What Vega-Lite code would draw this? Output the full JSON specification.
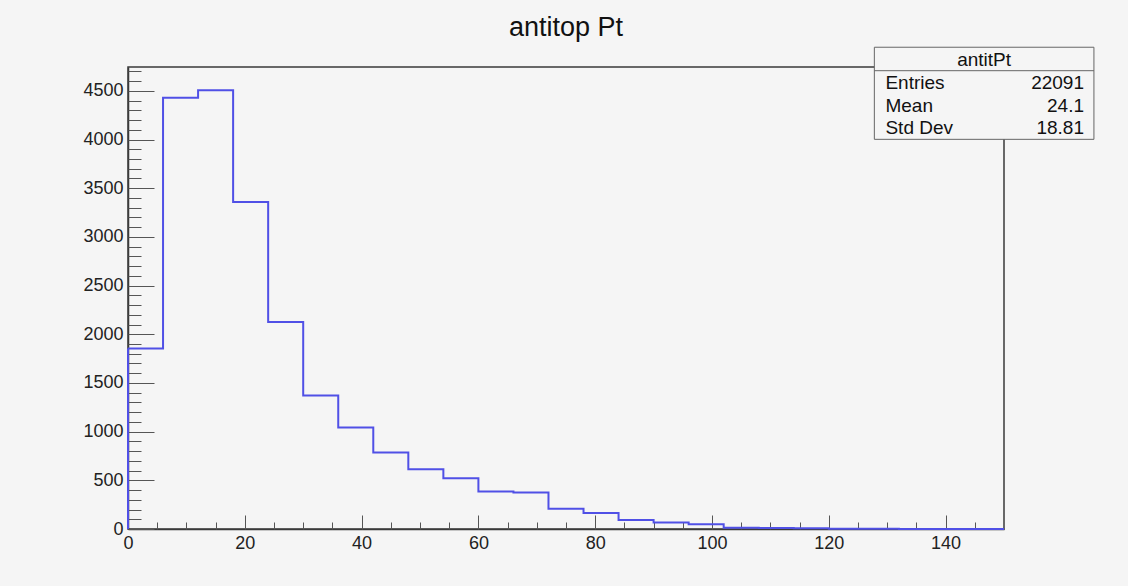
{
  "$schema": "https://vega.github.io/schema/vega-lite/v6.json",
  "width": 876,
  "height": 462,
  "autosize": {"type": "none"},
  "padding": {"left": 128, "top": 67, "right": 124, "bottom": 57},
  "background": "#f5f5f5",
  "config": {
    "view": {"stroke": "#3a3a3a", "strokeWidth": 1.5, "fill": "#f5f5f5"},
    "font": "Liberation Sans",
    "axis": {"labelFont": "Liberation Sans", "labelFontSize": 18, "labelColor": "#222", "tickColor": "#555", "tickWidth": 1, "domainColor": "#3a3a3a", "domainWidth": 1.5, "grid": false, "labelFlush": false, "format": "d"}
  },
  "title": {"text": "antitop Pt", "fontSize": 27, "fontWeight": "normal", "font": "Liberation Sans", "color": "#111", "anchor": "middle", "frame": "group", "baseline": "alphabetic", "offset": -16},
  "datasets": {
    "hist": [
      {"lo": 0, "hi": 6, "count": 1855},
      {"lo": 6, "hi": 12, "count": 4430},
      {"lo": 12, "hi": 18, "count": 4507},
      {"lo": 18, "hi": 24, "count": 3358},
      {"lo": 24, "hi": 30, "count": 2127},
      {"lo": 30, "hi": 36, "count": 1371},
      {"lo": 36, "hi": 42, "count": 1042},
      {"lo": 42, "hi": 48, "count": 785},
      {"lo": 48, "hi": 54, "count": 613},
      {"lo": 54, "hi": 60, "count": 520},
      {"lo": 60, "hi": 66, "count": 385},
      {"lo": 66, "hi": 72, "count": 374},
      {"lo": 72, "hi": 78, "count": 209},
      {"lo": 78, "hi": 84, "count": 164},
      {"lo": 84, "hi": 90, "count": 92},
      {"lo": 90, "hi": 96, "count": 68},
      {"lo": 96, "hi": 102, "count": 48},
      {"lo": 102, "hi": 108, "count": 14},
      {"lo": 108, "hi": 114, "count": 10},
      {"lo": 114, "hi": 120, "count": 8},
      {"lo": 120, "hi": 126, "count": 3},
      {"lo": 126, "hi": 132, "count": 2},
      {"lo": 132, "hi": 138, "count": 1},
      {"lo": 138, "hi": 144, "count": 1},
      {"lo": 144, "hi": 150, "count": 0}
    ],
    "stats": [
      {"name": "antitPt", "labels": ["Entries", "Mean", "Std Dev"], "values": ["22091", "24.1", "18.81"]}
    ]
  },
  "resolve": {"axis": {"x": "independent", "y": "independent"}},
  "layer": [
    {
      "data": {"name": "hist"},
      "transform": [{"fold": ["lo", "hi"], "as": ["edge", "pos"]}],
      "mark": {"type": "line", "color": "#5050e6", "strokeWidth": 2},
      "encoding": {
        "x": {"field": "pos", "type": "quantitative", "scale": {"domain": [0, 150], "nice": false, "zero": false},
              "axis": {"orient": "bottom", "values": [0, 20, 40, 60, 80, 100, 120, 140], "ticks": false, "tickSize": 0, "labelPadding": 5, "title": null}},
        "y": {"field": "count", "type": "quantitative", "scale": {"domain": [0, 4745], "nice": false, "zero": false},
              "axis": {"orient": "left", "values": [0, 500, 1000, 1500, 2000, 2500, 3000, 3500, 4000, 4500], "ticks": false, "tickSize": 0, "labelPadding": 5, "title": null}},
        "order": [{"field": "pos", "type": "quantitative"}, {"field": "edge", "type": "nominal"}]
      }
    },
    {
      "data": {"name": "hist"},
      "transform": [{"filter": "datum.lo == 0"}],
      "mark": {"type": "rule", "color": "#5050e6", "strokeWidth": 2},
      "encoding": {
        "x": {"field": "lo", "type": "quantitative", "scale": {"domain": [0, 150], "nice": false, "zero": false},
              "axis": {"orient": "bottom", "values": [0, 20, 40, 60, 80, 100, 120, 140], "labels": false, "domain": false, "tickSize": -14, "title": null}},
        "y": {"field": "count", "type": "quantitative", "scale": {"domain": [0, 4745], "nice": false, "zero": false},
              "axis": {"orient": "left", "values": [0, 500, 1000, 1500, 2000, 2500, 3000, 3500, 4000, 4500], "labels": false, "domain": false, "tickSize": -26, "title": null}},
        "y2": {"datum": 0}
      }
    },
    {
      "data": {"name": "hist"},
      "transform": [{"filter": "datum.hi == 150"}],
      "mark": {"type": "rule", "color": "#5050e6", "strokeWidth": 2},
      "encoding": {
        "x": {"field": "hi", "type": "quantitative", "scale": {"domain": [0, 150], "nice": false, "zero": false},
              "axis": {"orient": "bottom", "values": [5, 10, 15, 25, 30, 35, 45, 50, 55, 65, 70, 75, 85, 90, 95, 105, 110, 115, 125, 130, 135, 145], "labels": false, "domain": false, "tickSize": -7, "title": null}},
        "y": {"field": "count", "type": "quantitative", "scale": {"domain": [0, 4745], "nice": false, "zero": false},
              "axis": {"orient": "left", "values": [100, 200, 300, 400, 600, 700, 800, 900, 1100, 1200, 1300, 1400, 1600, 1700, 1800, 1900, 2100, 2200, 2300, 2400, 2600, 2700, 2800, 2900, 3100, 3200, 3300, 3400, 3600, 3700, 3800, 3900, 4100, 4200, 4300, 4400, 4600, 4700], "labels": false, "domain": false, "tickSize": -13, "title": null}},
        "y2": {"datum": 0}
      }
    },
    {
      "data": {"name": "stats"},
      "mark": {"type": "rect", "fill": "#f5f5f5", "stroke": "#666", "strokeWidth": 1},
      "encoding": {
        "x": {"datum": 127.8, "type": "quantitative", "scale": {"domain": [0, 150], "nice": false, "zero": false}, "axis": null},
        "x2": {"datum": 165.4},
        "y": {"datum": 4948, "type": "quantitative", "scale": {"domain": [0, 4745], "nice": false, "zero": false}, "axis": null},
        "y2": {"datum": 4002}
      }
    },
    {
      "data": {"name": "stats"},
      "mark": {"type": "rule", "stroke": "#666", "strokeWidth": 1},
      "encoding": {
        "x": {"datum": 127.8, "type": "quantitative", "scale": {"domain": [0, 150], "nice": false, "zero": false}, "axis": null},
        "x2": {"datum": 165.4},
        "y": {"datum": 4707, "type": "quantitative", "scale": {"domain": [0, 4745], "nice": false, "zero": false}, "axis": null}
      }
    },
    {
      "data": {"name": "stats"},
      "mark": {"type": "text", "font": "Liberation Sans", "fontSize": 19, "color": "#111", "align": "center", "baseline": "middle"},
      "encoding": {
        "x": {"datum": 146.6, "type": "quantitative", "scale": {"domain": [0, 150], "nice": false, "zero": false}, "axis": null},
        "y": {"datum": 4817, "type": "quantitative", "scale": {"domain": [0, 4745], "nice": false, "zero": false}, "axis": null},
        "text": {"field": "name", "type": "nominal"}
      }
    },
    {
      "data": {"name": "stats"},
      "mark": {"type": "text", "font": "Liberation Sans", "fontSize": 19, "color": "#111", "align": "left", "baseline": "middle", "lineHeight": 22.8},
      "encoding": {
        "x": {"datum": 129.7, "type": "quantitative", "scale": {"domain": [0, 150], "nice": false, "zero": false}, "axis": null},
        "y": {"datum": 4582, "type": "quantitative", "scale": {"domain": [0, 4745], "nice": false, "zero": false}, "axis": null},
        "text": {"field": "labels", "type": "nominal"}
      }
    },
    {
      "data": {"name": "stats"},
      "mark": {"type": "text", "font": "Liberation Sans", "fontSize": 19, "color": "#111", "align": "right", "baseline": "middle", "lineHeight": 22.8},
      "encoding": {
        "x": {"datum": 163.7, "type": "quantitative", "scale": {"domain": [0, 150], "nice": false, "zero": false}, "axis": null},
        "y": {"datum": 4582, "type": "quantitative", "scale": {"domain": [0, 4745], "nice": false, "zero": false}, "axis": null},
        "text": {"field": "values", "type": "nominal"}
      }
    }
  ]
}
